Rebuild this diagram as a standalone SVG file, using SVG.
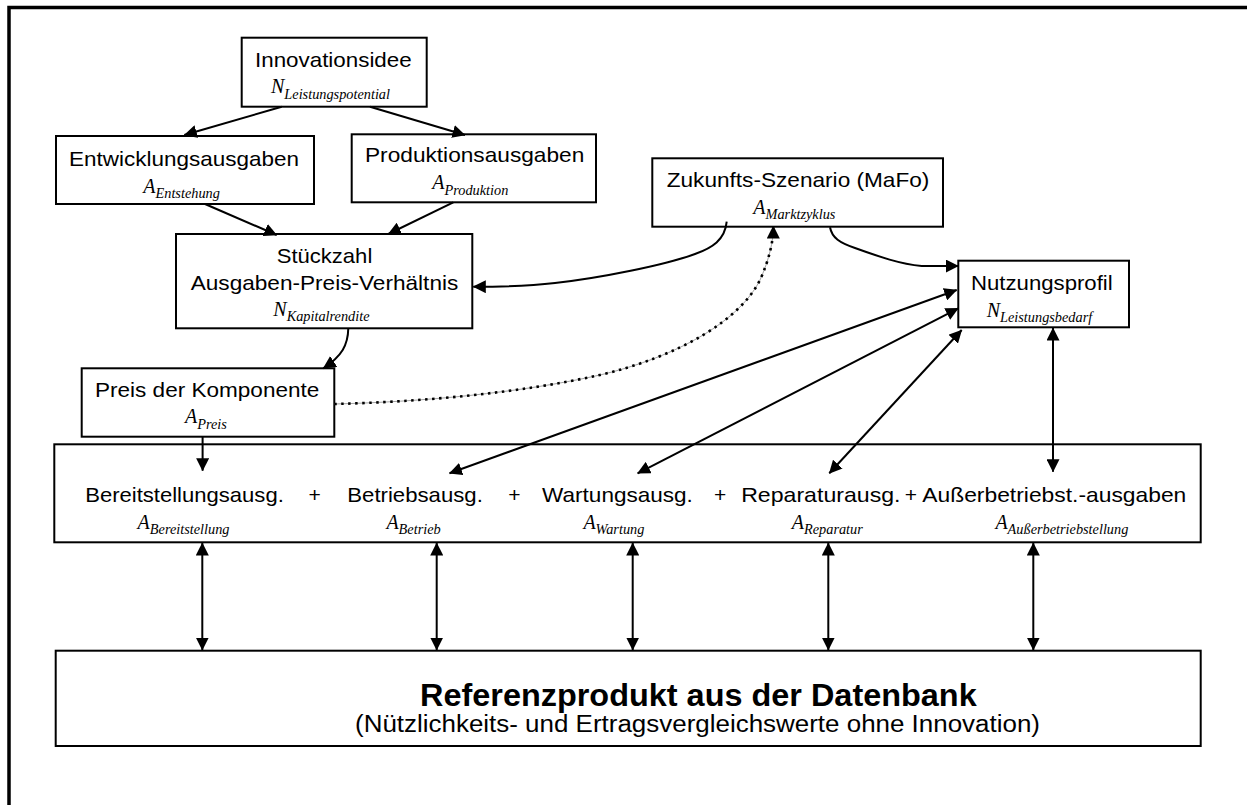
<svg xmlns="http://www.w3.org/2000/svg" width="1247" height="805" viewBox="0 0 1247 805">
  <style>
    .box { fill: #fff; stroke: #000; stroke-width: 2; }
    .lbl { font-family: "Liberation Sans", Arial, sans-serif; font-size: 21px; fill: #000; }
    .title { font-family: "Liberation Sans", Arial, sans-serif; font-size: 31px; font-weight: bold; fill: #000; }
    .note { font-family: "Liberation Sans", Arial, sans-serif; font-size: 23px; fill: #000; }
    .math { font-family: "Liberation Serif", "Times New Roman", serif; font-style: italic; font-size: 20px; fill: #000; }
    .sub { font-size: 14.3px; }
    .conn { fill: none; stroke: #000; stroke-width: 2; }
    .dotbase { fill: none; stroke: #9a9a9a; stroke-width: 0.9; }
    .dots { fill: none; stroke: #000; stroke-width: 2.6; stroke-dasharray: 2.5 4.5; }
  </style>
  <defs>
    <marker id="ah" viewBox="0 0 13 13" refX="12.5" refY="6.5" markerWidth="13" markerHeight="13" markerUnits="userSpaceOnUse" orient="auto-start-reverse">
      <path d="M0,0 L13,6.5 L0,13 z" fill="#000"/>
    </marker>
  </defs>

  <rect x="0" y="0" width="1247" height="805" fill="#fff"/>
  <!-- page frame -->
  <rect x="9" y="7.5" width="1400" height="1000" fill="none" stroke="#000" stroke-width="3.5"/>

  <g id="innovationsidee">
    <rect class="box" x="241.7" y="37.7" width="185" height="69"/>
    <text class="lbl" x="255" y="66.7" textLength="156.7" lengthAdjust="spacingAndGlyphs">Innovationsidee</text>
    <text class="math" x="271" y="93.3">N<tspan class="sub" dy="5.7">Leistungspotential</tspan></text>
  </g>

  <g id="entwicklungsausgaben">
    <rect class="box" x="56" y="136" width="258" height="68"/>
    <text class="lbl" x="69" y="165.7" textLength="230" lengthAdjust="spacingAndGlyphs">Entwicklungsausgaben</text>
    <text class="math" x="143.3" y="192.7">A<tspan class="sub" dy="5.6">Entstehung</tspan></text>
  </g>

  <g id="produktionsausgaben">
    <rect class="box" x="351.7" y="134.3" width="244.3" height="68"/>
    <text class="lbl" x="365" y="162.3" textLength="219.3" lengthAdjust="spacingAndGlyphs">Produktionsausgaben</text>
    <text class="math" x="432.3" y="189.3">A<tspan class="sub" dy="5.7">Produktion</tspan></text>
  </g>

  <g id="zukunftsszenario">
    <rect class="box" x="652.3" y="158.3" width="290.7" height="68.4"/>
    <text class="lbl" x="666.7" y="186.7" textLength="262.7" lengthAdjust="spacingAndGlyphs">Zukunfts-Szenario (MaFo)</text>
    <text class="math" x="753.3" y="214">A<tspan class="sub" dy="5.3">Marktzyklus</tspan></text>
  </g>

  <g id="nutzungsprofil">
    <rect class="box" x="958.3" y="260.7" width="170.7" height="66.6"/>
    <text class="lbl" x="971" y="290" textLength="141.7" lengthAdjust="spacingAndGlyphs">Nutzungsprofil</text>
    <text class="math" x="986.7" y="316.7">N<tspan class="sub" dy="5">Leistungsbedarf</tspan></text>
  </g>

  <g id="stueckzahl">
    <rect class="box" x="176" y="234" width="296.3" height="94.3"/>
    <text class="lbl" x="276.7" y="262.7" textLength="95.6" lengthAdjust="spacingAndGlyphs">Stückzahl</text>
    <text class="lbl" x="190.7" y="290" textLength="267.6" lengthAdjust="spacingAndGlyphs">Ausgaben-Preis-Verhältnis</text>
    <text class="math" x="273.3" y="315.7">N<tspan class="sub" dy="5">Kapitalrendite</tspan></text>
  </g>

  <g id="preis">
    <rect class="box" x="81.7" y="368.3" width="252.6" height="68.4"/>
    <text class="lbl" x="95" y="396.7" textLength="224.3" lengthAdjust="spacingAndGlyphs">Preis der Komponente</text>
    <text class="math" x="185" y="423.3">A<tspan class="sub" dy="6">Preis</tspan></text>
  </g>

  <g id="ausgaben">
    <rect class="box" x="54.3" y="444.3" width="1146.4" height="98"/>
    <text class="lbl" x="85.2" y="501.7" textLength="198.6" lengthAdjust="spacingAndGlyphs">Bereitstellungsausg.</text>
    <text class="lbl" x="314.6" y="501.7" text-anchor="middle">+</text>
    <text class="lbl" x="347.3" y="501.7" textLength="135.5" lengthAdjust="spacingAndGlyphs">Betriebsausg.</text>
    <text class="lbl" x="514.5" y="501.7" text-anchor="middle">+</text>
    <text class="lbl" x="542.1" y="501.7" textLength="150.8" lengthAdjust="spacingAndGlyphs">Wartungsausg.</text>
    <text class="lbl" x="720.2" y="501.7" text-anchor="middle">+</text>
    <text class="lbl" x="741.2" y="501.7" textLength="159.3" lengthAdjust="spacingAndGlyphs">Reparaturausg.</text>
    <text class="lbl" x="911" y="501.7" text-anchor="middle">+</text>
    <text class="lbl" x="922.3" y="501.7" textLength="264" lengthAdjust="spacingAndGlyphs">Außerbetriebst.-ausgaben</text>
    <text class="math" x="137.6" y="529">A<tspan class="sub" dy="5">Bereitstellung</tspan></text>
    <text class="math" x="386.4" y="529">A<tspan class="sub" dy="5">Betrieb</tspan></text>
    <text class="math" x="583.4" y="529">A<tspan class="sub" dy="5">Wartung</tspan></text>
    <text class="math" x="791.8" y="529">A<tspan class="sub" dy="5">Reparatur</tspan></text>
    <text class="math" x="995.4" y="529">A<tspan class="sub" dy="5">Außerbetriebstellung</tspan></text>
  </g>

  <g id="referenzprodukt">
    <rect class="box" x="55.7" y="650.7" width="1145" height="95.3"/>
    <text class="title" x="420" y="706" textLength="556.7" lengthAdjust="spacingAndGlyphs">Referenzprodukt aus der Datenbank</text>
    <text class="note" x="355" y="731.7" textLength="685" lengthAdjust="spacingAndGlyphs">(Nützlichkeits- und Ertragsvergleichswerte ohne Innovation)</text>
  </g>

  <!-- connectors, drawn over the boxes so arrows may end inside the cost row -->
  <g id="connectors">
    <path class="conn" d="M281.7,106.7 L184.3,135" marker-end="url(#ah)"/>
    <path class="conn" d="M370,106.7 L465,135" marker-end="url(#ah)"/>
    <path class="conn" d="M205,204 L276.7,235" marker-end="url(#ah)"/>
    <path class="conn" d="M453.3,202.3 L388.3,234" marker-end="url(#ah)"/>
    <path class="conn" d="M348.3,328.3 C348,345 342,356 323.3,368.3" marker-end="url(#ah)"/>
    <path class="conn" d="M726.7,221.7 C725,240 712,248 695,254 C665,265 600,278 555,283 C530,286 500,286.7 473.3,286.7" marker-end="url(#ah)"/>
    <path class="conn" d="M830,227.3 C832,238 840,243 855,248 C880,257 900,264 921.7,266 L958.3,266" marker-end="url(#ah)"/>
    <!-- dotted link price -> scenario -->
    <path class="dotbase" d="M334.3,404 C420,402 520,393 600,375 C680,356 740,320 760,280 C770,258 773,240 773.3,230"/>
    <path class="dots" d="M334.3,404 C420,402 520,393 600,375 C680,356 740,320 760,280 C770,258 773,240 773.3,230"/>
    <path class="conn" d="M773.3,238 L773.3,226" marker-end="url(#ah)"/>
    <!-- usage profile <-> cost items -->
    <path class="conn" d="M956.7,290 L449.5,473.3" marker-start="url(#ah)" marker-end="url(#ah)"/>
    <path class="conn" d="M958.3,308.3 L637.6,473.3" marker-start="url(#ah)" marker-end="url(#ah)"/>
    <path class="conn" d="M961.7,330 L829.3,473.3" marker-start="url(#ah)" marker-end="url(#ah)"/>
    <path class="conn" d="M1053,328 L1053,471.7" marker-start="url(#ah)" marker-end="url(#ah)"/>
    <path class="conn" d="M202.6,436.7 L202.6,470.7" marker-end="url(#ah)"/>
    <!-- cost items <-> reference product -->
    <path class="conn" d="M202.3,543 L202.3,650" marker-start="url(#ah)" marker-end="url(#ah)"/>
    <path class="conn" d="M436.7,543 L436.7,650" marker-start="url(#ah)" marker-end="url(#ah)"/>
    <path class="conn" d="M632.7,543 L632.7,650" marker-start="url(#ah)" marker-end="url(#ah)"/>
    <path class="conn" d="M828.3,543 L828.3,650" marker-start="url(#ah)" marker-end="url(#ah)"/>
    <path class="conn" d="M1033.3,543 L1033.3,650" marker-start="url(#ah)" marker-end="url(#ah)"/>
  </g>
</svg>
